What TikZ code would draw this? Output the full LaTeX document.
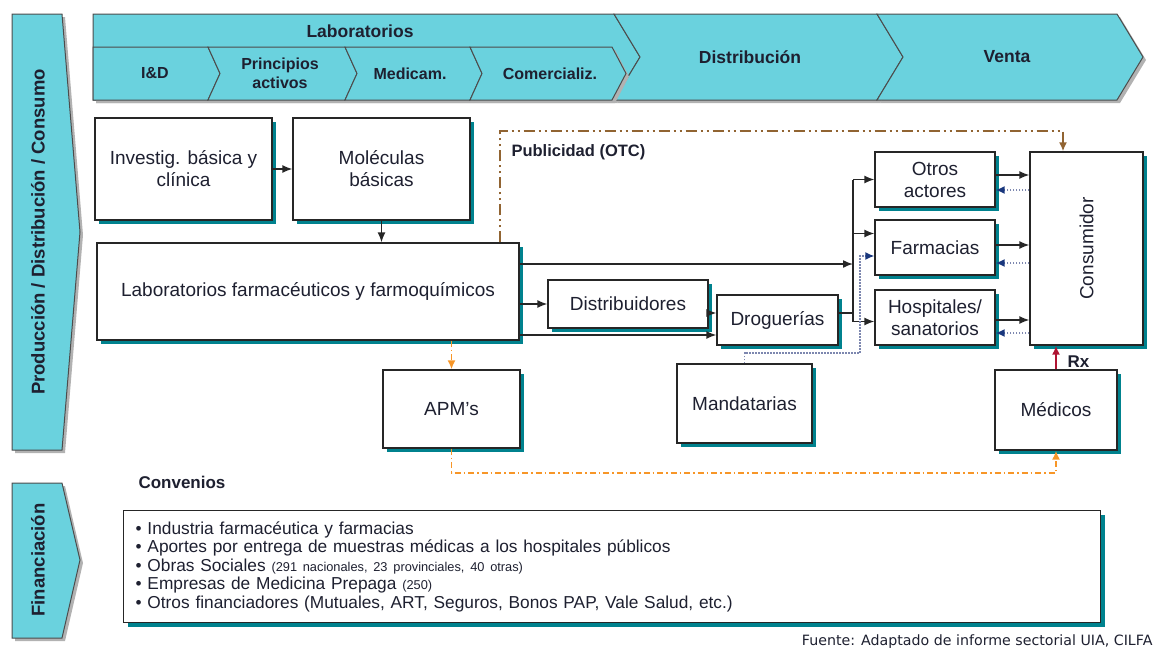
\documentclass[tikz,border=0pt]{standalone}
\usepackage{fontspec}
\setmainfont{Liberation Sans}
\newfontfamily\fuente{DejaVu Sans}
\usetikzlibrary{positioning,shadows,arrows.meta}

\definecolor{banda}{RGB}{106,210,222}
\definecolor{sombra}{RGB}{0,130,142}
\definecolor{texto}{RGB}{30,32,48}
\definecolor{publi}{RGB}{145,100,50}
\definecolor{naranja}{RGB}{247,150,40}
\definecolor{rojorx}{RGB}{175,20,50}
\definecolor{punteo}{RGB}{125,135,175}
\definecolor{azul}{RGB}{25,55,125}

\begin{document}
\begin{tikzpicture}[
    x=1pt, y=-1pt,
    every node/.style={align=center, text=texto, font=\fontsize{19}{22}\selectfont},
    box/.style={draw=black!85, fill=white, line width=1.3pt, inner sep=0pt,
        drop shadow={fill=sombra, opacity=1, shadow xshift=4pt, shadow yshift=-4pt}},
    chev/.style={draw=black!70, fill=banda, line width=1pt,
        drop shadow={fill=black!30, opacity=1, shadow xshift=3pt, shadow yshift=-3pt}},
    head/.style={font=\fontsize{17.5}{19}\selectfont\bfseries},
    sub/.style={font=\fontsize{16}{19}\selectfont\bfseries},
    side/.style={font=\fontsize{18.5}{20}\selectfont\bfseries, rotate=90},
    flow/.style={-{Latex[length=10pt,width=8pt]}, line width=1.5pt, draw=black!85},
    link/.style={line width=1.5pt, draw=black!85},
    back/.style={draw=punteo, line width=1.5pt, dash pattern=on 1.5pt off 1.5pt,
        -{Latex[length=9pt,width=8pt,color=azul]}},
    pub/.style={draw=publi, line width=2pt,
        dash pattern=on 11pt off 4pt on 2pt off 4pt on 2pt off 4pt, -{Latex[length=9pt,width=8pt]}},
    apmline/.style={draw=naranja, line width=1.8pt,
        dash pattern=on 6pt off 3pt on 1.5pt off 3pt, -{Latex[length=9pt,width=8pt]}},
    rxline/.style={draw=rojorx, line width=2pt, -{Latex[length=9pt,width=8pt]}}
]
    \useasboundingbox (0,0) rectangle (1160,648);

    % Draw banners
    \path[chev] (12,14) -- (62,14) -- (80,232) -- (62,450) -- (12,450) -- cycle;
    \node[side] (prod) at (38,232) {Producción / Distribución / Consumo};
    \path[chev] (12,483) -- (62,483) -- (80,560) -- (62,638) -- (12,638) -- cycle;
    \node[side] (finan) at (38,560) {Financiación};

    \path[chev] (93,14) -- (614,14) -- (640,57) -- (614,100) -- (93,100) -- cycle;
    \path[chev] (614,14) -- (877,14) -- (903,57) -- (877,100) -- (614,100) -- (640,57) -- cycle;
    \path[chev] (877,14) -- (1117,14) -- (1143,57) -- (1117,100) -- (877,100) -- (903,57) -- cycle;
    \path[chev] (93,47) -- (208,47) -- (220,73.5) -- (208,100) -- (93,100) -- cycle;
    \path[chev] (208,47) -- (345,47) -- (357,73.5) -- (345,100) -- (208,100) -- (220,73.5) -- cycle;
    \path[chev] (345,47) -- (470,47) -- (482,73.5) -- (470,100) -- (345,100) -- (357,73.5) -- cycle;
    \path[chev] (470,47) -- (612,47) -- (626,73.5) -- (612,100) -- (470,100) -- (482,73.5) -- cycle;

    \node[head] (labt) at (360,31) {Laboratorios};
    \node[head] (distt) at (750,57) {Distribución};
    \node[head] (ventat) at (1007,57) {Venta};
    \node[sub] (iyd) at (155,73.5) {I\&D};
    \node[sub] (princ) at (280,73.5) {Principios\\activos};
    \node[sub] (medic) at (410,73.5) {Medicam.};
    \node[sub] (comer) at (550,73.5) {Comercializ.};

    % Draw nodes
    \node[box, minimum width=177pt, minimum height=102pt] (invest) at (183.5,169) {Investig. básica y\\clínica};
    \node[box, minimum width=177pt, minimum height=102pt] (molec) at (381.5,169) {Moléculas\\básicas};
    \node[box, minimum width=422pt, minimum height=97pt] (lab) at (308,291.5) {Laboratorios farmacéuticos y farmoquímicos};
    \node[box, minimum width=160pt, minimum height=48pt] (distrib) at (628,304) {Distribuidores};
    \node[box, minimum width=121pt, minimum height=50pt] (drog) at (777.5,320) {Droguerías};
    \node[box, minimum width=120pt, minimum height=55pt] (otros) at (935,179.5) {Otros\\actores};
    \node[box, minimum width=120pt, minimum height=55pt] (farm) at (935,247.5) {Farmacias};
    \node[box, minimum width=120pt, minimum height=55pt] (hosp) at (935,317.5) {Hospitales/\\sanatorios};
    \node[box, minimum width=113pt, minimum height=193pt] (cons) at (1086.5,248.5) {\rotatebox{90}{Consumidor}};
    \node[box, minimum width=137pt, minimum height=78pt] (apm) at (451.5,409) {APM's};
    \node[box, minimum width=135pt, minimum height=79pt] (mand) at (744.5,403.5) {Mandatarias};
    \node[box, minimum width=122pt, minimum height=80pt] (medicos) at (1056,410) {Médicos};

    \node[font=\fontsize{16.5}{18}\selectfont\bfseries, anchor=west] (publit) at (508,152) {Publicidad (OTC)};
    \node[font=\fontsize{17}{18}\selectfont\bfseries, anchor=west] (rxt) at (1064,362) {Rx};
    \node[font=\fontsize{17}{18}\selectfont\bfseries, anchor=west] (conv) at (135,482) {Convenios};

    \node[box, anchor=north west, minimum height=112pt, text width=953pt, inner xsep=12pt,
        align=left, font=\fontsize{17.3}{18.5}\selectfont] (fin) at (123,510)
        {• Industria farmacéutica y farmacias\\
         • Aportes por entrega de muestras médicas a los hospitales públicos\\
         • Obras Sociales {\fontsize{12.8}{13}\selectfont(291 nacionales, 23 provinciales, 40 otras)}\\
         • Empresas de Medicina Prepaga {\fontsize{12.8}{13}\selectfont(250)}\\
         • Otros financiadores (Mutuales, ART, Seguros, Bonos PAP, Vale Salud, etc.)};

    \node[font=\fuente\fontsize{14.2}{15}\selectfont, anchor=base east] (fuente) at (1156,645)
        {Fuente: Adaptado de informe sectorial UIA, CILFA};

    % Draw connections
    \coordinate (bus) at (853,264);
    \coordinate (pubarriba) at (500,131);
    \coordinate (mpunto) at (860,353);
    \coordinate (drogin) at ([yshift=-15pt]drog.west);
    \coordinate (drogup) at ([yshift=7pt]drog.west);
    \coordinate (farmin) at ([yshift=14pt]farm.west);
    \coordinate (farmdot) at ([yshift=-8.5pt]farm.west);
    \coordinate (hospin) at ([yshift=-4pt]hosp.west);

    \draw[flow] (invest) -- (molec);
    \draw[flow] (molec) -- (molec |- lab.north);
    \draw[flow] (lab.east |- distrib) -- (distrib);
    \draw[flow] (lab.east |- drogin) -- (drogin);
    \draw[flow] (distrib.east |- drogup) -- (drogup);
    \draw[flow] (lab.east |- bus) -- (bus);
    \draw[link] ([yshift=7pt]drog.east) -- (bus |- drogup);
    \draw[link] (bus |- otros) -- (bus |- hospin);
    \draw[flow] (bus |- otros) -- (otros);
    \draw[flow] (bus |- farmin) -- (farmin);
    \draw[flow] (bus |- hospin) -- (hospin);

    \foreach \n/\a/\b in {otros/4.5/-10.5, farm/2.5/-15.5, hosp/-2.5/-15.5} {
        \draw[flow] ([yshift=\a pt]\n.east) -- ([yshift=\a pt]\n.east -| cons.west);
        \draw[back] ([yshift=\b pt]\n.east -| cons.west) -- ([yshift=\b pt]\n.east);
    }

    \draw[back] (mand.north) |- (mpunto) |- (farmdot);
    \draw[pub] (lab.north -| pubarriba) -- (pubarriba) -| ([xshift=-23.5pt]cons.north);
    \draw[apmline] (lab.south -| apm) -- (apm.north);
    \draw[apmline] (apm.south) |- ([yshift=-22pt]medicos.south) -- (medicos.south);
    \draw[rxline] (medicos.north) -- (medicos.north |- cons.south);

\end{tikzpicture}
\end{document}
